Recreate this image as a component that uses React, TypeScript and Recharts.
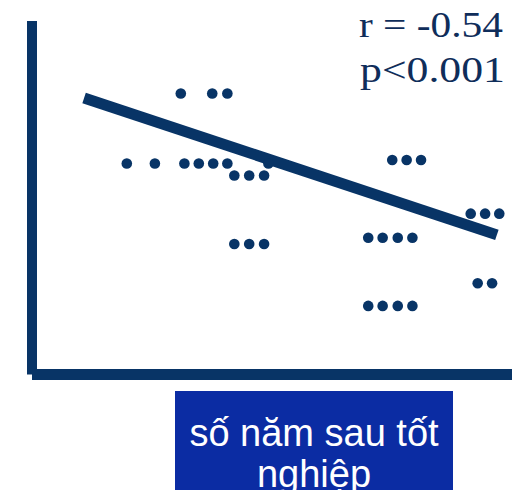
import React from 'react';
import { ScatterChart, Scatter, XAxis, YAxis, ReferenceLine } from 'recharts';

// years after graduation (x) vs. score (y)
const groupA = [
  { x: 6.2, y: 7.95 }, { x: 7.51, y: 7.95 }, { x: 8.14, y: 7.95 },
  { x: 3.95, y: 5.97 }, { x: 5.12, y: 5.97 }, { x: 6.35, y: 5.97 }, { x: 6.95, y: 5.97 },
  { x: 7.55, y: 5.97 }, { x: 8.14, y: 5.97 }, { x: 9.85, y: 5.97 },
  { x: 8.43, y: 5.63 }, { x: 9.05, y: 5.63 }, { x: 9.67, y: 5.63 },
  { x: 8.43, y: 3.69 }, { x: 9.05, y: 3.69 }, { x: 9.67, y: 3.69 },
];

const groupB = [
  { x: 15.01, y: 6.07 }, { x: 15.61, y: 6.07 }, { x: 16.21, y: 6.07 },
  { x: 18.28, y: 4.55 }, { x: 18.88, y: 4.55 }, { x: 19.47, y: 4.55 },
  { x: 14.01, y: 3.87 }, { x: 14.61, y: 3.87 }, { x: 15.24, y: 3.87 }, { x: 15.85, y: 3.87 },
  { x: 18.57, y: 2.58 }, { x: 19.17, y: 2.58 },
  { x: 14.01, y: 1.94 }, { x: 14.61, y: 1.94 }, { x: 15.24, y: 1.94 }, { x: 15.85, y: 1.94 },
];

const trend = [
  { x: 2.17, y: 7.82 },
  { x: 19.37, y: 3.95 },
];

const statLines = ['r = -0.54', 'p<0.001'];
const axisTitle = ['số năm sau tốt', 'nghiệp'];

const navy = '#083466';

const Dot = (props: any) => <circle cx={props.cx} cy={props.cy} r={5.3} fill={navy} />;

export default function App() {
  return (
    <div
      style={{
        position: 'fixed',
        left: 0,
        top: 0,
        width: 512,
        height: 490,
        overflow: 'hidden',
        background: '#fff',
      }}
    >
      <ScatterChart width={512} height={490} margin={{ top: 21, right: 0, bottom: 114.5, left: 31 }}>
        <XAxis
          type="number"
          dataKey="x"
          domain={[0, 20]}
          height={1}
          tick={false}
          tickLine={false}
          axisLine={{ stroke: navy, strokeWidth: 11 }}
        />
        <YAxis
          type="number"
          dataKey="y"
          domain={[0, 10]}
          width={1}
          tick={false}
          tickLine={false}
          axisLine={{ stroke: navy, strokeWidth: 10 }}
        />
        <Scatter data={groupA} shape={Dot} isAnimationActive={false} />
        <Scatter data={groupB} shape={Dot} isAnimationActive={false} />
        <ReferenceLine
          segment={[trend[0], trend[1]]}
          stroke={navy}
          strokeWidth={11}
          ifOverflow="visible"
        />
      </ScatterChart>
      <svg width={512} height={490} style={{ position: 'absolute', left: 0, top: 0 }}>
        <text
          x={359}
          y={36.5}
          textLength={144}
          lengthAdjust="spacingAndGlyphs"
          fontFamily="Liberation Serif"
          fontSize={35}
          fill="#0f2d5a"
        >
          {statLines[0]}
        </text>
        <text
          x={360}
          y={81.5}
          textLength={145}
          lengthAdjust="spacingAndGlyphs"
          fontFamily="Liberation Serif"
          fontSize={35}
          fill="#0f2d5a"
        >
          {statLines[1]}
        </text>
        <rect x={175} y={391} width={278} height={99} fill="#0b2ca3" />
        <text x={314} y={446} textAnchor="middle" fontFamily="Liberation Sans" fontSize={38} fill="#fff">
          {axisTitle[0]}
        </text>
        <text x={314} y={487} textAnchor="middle" fontFamily="Liberation Sans" fontSize={38} fill="#fff">
          {axisTitle[1]}
        </text>
      </svg>
    </div>
  );
}
